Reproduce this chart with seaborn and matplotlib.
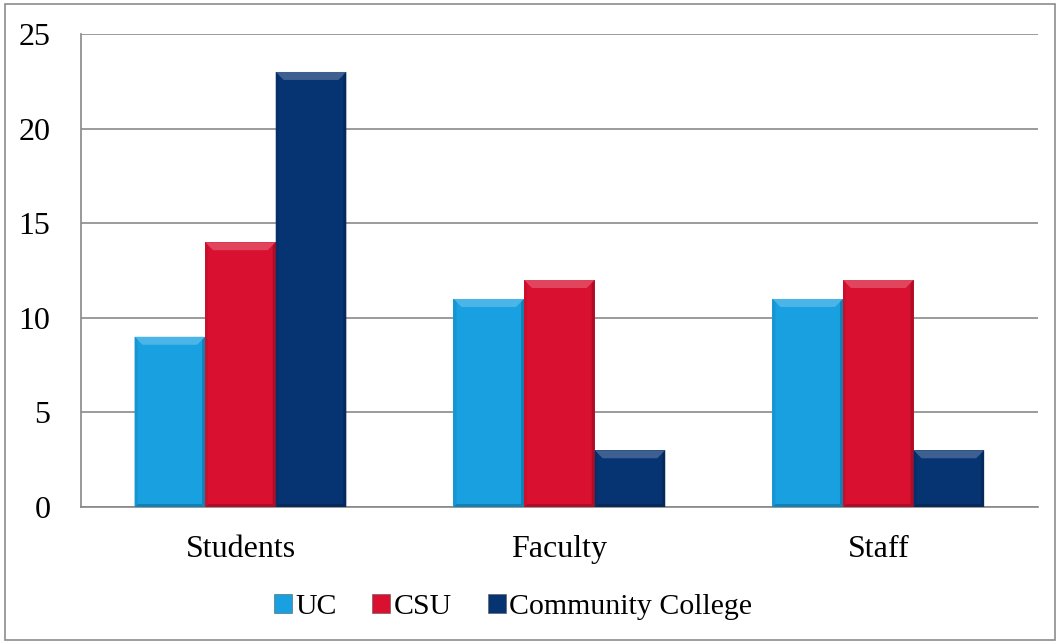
import matplotlib
matplotlib.use("Agg")
import matplotlib.pyplot as plt
import matplotlib.colors as mcolors
from matplotlib.patches import Polygon, Rectangle
import seaborn as sns
import pandas as pd

groups = ["Students", "Faculty", "Staff"]
systems = ["UC", "CSU", "Community College"]
uc_values = [9, 11, 11]
csu_values = [14, 12, 12]
cc_values = [23, 3, 3]
y_ticks = [0, 5, 10, 15, 20, 25]

palette = {"UC": "#18a0e0", "CSU": "#d91030", "Community College": "#063372"}

df = pd.DataFrame({
    "group": groups * 3,
    "system": [s for s in systems for _ in groups],
    "value": uc_values + csu_values + cc_values,
})

sns.set_theme(style="white")
plt.rcParams["font.family"] = ["Liberation Serif", "DejaVu Serif"]
plt.rcParams["text.color"] = "black"
plt.rcParams["xtick.color"] = "black"
plt.rcParams["ytick.color"] = "black"
plt.rcParams["xtick.labelcolor"] = "black"
plt.rcParams["ytick.labelcolor"] = "black"

fig = plt.figure(figsize=(10.6, 6.44), dpi=100)
ax = fig.add_axes([0.0764, 0.2127, 0.9026, 0.7343])

sns.barplot(data=df, x="group", y="value", hue="system", order=groups,
            hue_order=systems, palette=palette, width=0.664, saturation=1,
            edgecolor="none", linewidth=0, ax=ax, zorder=3, legend=False)

ax.set_ylim(0, 25)
ax.set_xlim(-0.5, 2.5)
ax.set_yticks(y_ticks)
ax.set_yticklabels([str(t) for t in y_ticks], fontsize=23)
ax.set_xlabel("")
ax.set_ylabel("")
ax.tick_params(axis="x", which="major", length=0, labelsize=23, pad=20)
ax.set_xticks([-0.5, 0.5, 1.5, 2.5], minor=True)
ax.tick_params(axis="x", which="minor", length=10, width=1, color="#888888", direction="out")
ax.tick_params(axis="y", length=10, width=1, color="#888888", direction="out", pad=12)
ax.yaxis.grid(True, color="#8a8a8a", linewidth=1.2, zorder=0)
ax.xaxis.grid(False)
for side in ["top", "right"]:
    ax.spines[side].set_visible(False)
for side in ["left", "bottom"]:
    ax.spines[side].set_color("#888888")
    ax.spines[side].set_linewidth(1.2)

# bevelled look on each bar: lighter top edge, darker right/bottom edges
fig.canvas.draw()
trans = ax.transData
inv = trans.inverted()
for patch in list(ax.patches):
    base = mcolors.to_rgb(patch.get_facecolor())
    light = tuple(min(1, c + (1 - c) * 0.22) for c in base)
    dark = tuple(c * 0.8 for c in base)
    x0, y0 = patch.get_x(), patch.get_y()
    x1, y1 = x0 + patch.get_width(), y0 + patch.get_height()
    (px0, py0), (px1, py1) = trans.transform([(x0, y0), (x1, y1)])
    b = 8
    s = 3
    top = inv.transform([(px0, py1), (px1, py1), (px1 - b, py1 - b), (px0 + b, py1 - b)])
    right = inv.transform([(px1, py1), (px1, py0), (px1 - s, py0 + s), (px1 - s, py1 - s)])
    bottom = inv.transform([(px0, py0), (px1, py0), (px1 - s, py0 + s), (px0 + s, py0 + s)])
    left = inv.transform([(px0, py1), (px0 + s, py1 - s), (px0 + s, py0 + s), (px0, py0)])
    ax.add_patch(Polygon(top, closed=True, facecolor=light, edgecolor="none", zorder=4))
    ax.add_patch(Polygon(right, closed=True, facecolor=dark, edgecolor="none", zorder=4))
    ax.add_patch(Polygon(bottom, closed=True, facecolor=dark, edgecolor="none", zorder=4))
    ax.add_patch(Polygon(left, closed=True, facecolor=tuple(c * 0.93 for c in base),
                         edgecolor="none", zorder=4))

handles = [Rectangle((0, 0), 1, 1, facecolor=palette[s], edgecolor="#555555", linewidth=0.4)
           for s in systems]
fig.legend(handles, systems, loc="center", bbox_to_anchor=(0.484, 0.058), ncol=3,
           frameon=False, fontsize=21.5, handlelength=0.6, handleheight=0.6,
           handletextpad=0.12, columnspacing=1.2)

fig.add_artist(Rectangle((0.0047, 0.0062), 0.9906, 0.9876, transform=fig.transFigure,
                         fill=False, edgecolor="#8c8c8c", linewidth=1.2))

fig.savefig("out.png", dpi=100)
